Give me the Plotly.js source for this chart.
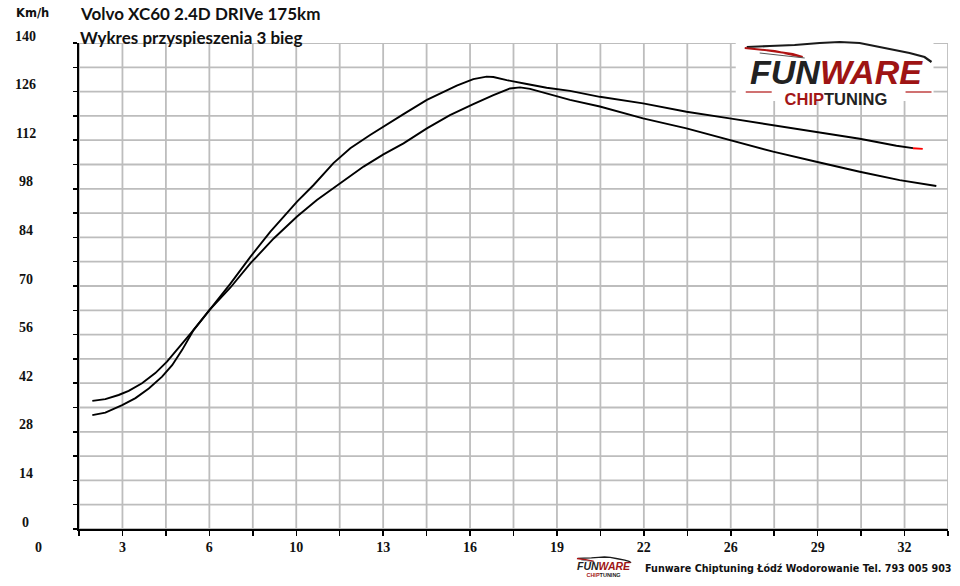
<!DOCTYPE html>
<html>
<head>
<meta charset="utf-8">
<script src="https://cdn.plot.ly/plotly-3.0.1.min.js"></script>
<style>html,body{margin:0;padding:0;background:#fff;}#chart{width:960px;height:586px;}</style>
</head>
<body>
<div id="chart"></div>
<script>
// ---- data (time in s, speed in km/h) ----
const timeA = [2.09, 2.57, 3.06, 3.43, 3.92, 4.41, 4.84, 5.27, 5.76, 6.41, 7.17, 7.91, 8.77, 9.63, 10.36, 11.22, 12.08, 12.81, 13.55, 14.41, 15.26, 16.12, 16.86, 17.47, 17.84, 18.21, 18.82, 19.68, 20.78, 22.37, 23.97, 25.56, 27.16, 28.75, 30.35, 31.82, 33.17];
const speedA = [36.9, 37.4, 38.6, 39.8, 42.0, 44.9, 48.2, 52.1, 56.8, 63.1, 69.5, 76.5, 83.7, 90.0, 94.8, 99.6, 104.4, 107.9, 111.1, 115.4, 119.2, 122.4, 125.0, 126.9, 127.2, 126.8, 125.5, 123.6, 121.7, 118.3, 115.4, 112.1, 108.7, 105.8, 102.9, 100.5, 98.8];
const timeB = [2.09, 2.57, 3.19, 3.68, 4.17, 4.66, 5.03, 5.40, 5.82, 6.41, 7.17, 7.91, 8.64, 9.63, 10.24, 10.97, 11.59, 12.32, 12.94, 13.55, 14.41, 14.90, 15.51, 16.12, 16.61, 16.86, 17.35, 18.09, 18.82, 19.68, 20.78, 22.37, 23.97, 25.56, 27.16, 28.75, 30.35, 31.70, 32.31];
const speedB = [32.8, 33.5, 35.7, 37.7, 40.5, 43.9, 47.2, 51.6, 57.3, 63.1, 70.6, 78.4, 85.6, 94.3, 99.1, 105.4, 109.7, 113.5, 116.4, 119.5, 123.6, 125.5, 127.7, 129.6, 130.3, 130.2, 129.3, 128.2, 127.1, 126.2, 124.5, 122.6, 120.2, 118.3, 116.4, 114.5, 112.4, 110.4, 109.7];
const tipTime = [32.31, 32.67];
const tipSpeed = [109.7, 109.5];

// ---- axis ticks / grid ----
const xGridVals = [1.6, 3.2, 4.8, 6.4, 8.0, 9.6, 11.2, 12.8, 14.4, 16.0, 17.6, 19.2, 20.8, 22.4, 24.0, 25.6, 27.2, 28.8, 30.4, 32.0, 33.6];
const xTickVals = [3.2, 6.4, 9.6, 12.8, 16.0, 19.2, 22.4, 25.6, 28.8, 32.0];
const xTickText = ['3', '6', '10', '13', '16', '19', '22', '26', '29', '32'];
const yGridVals = [0, 7, 14, 21, 28, 35, 42, 49, 56, 63, 70, 77, 84, 91, 98, 105, 112, 119, 126, 133, 140];
const yTickVals = [0, 14, 28, 42, 56, 70, 84, 98, 112, 126, 140];
const yTickText = ['0', '14', '28', '42', '56', '70', '84', '98', '112', '126', '140'];

const titleLine1 = 'Volvo XC60 2.4D DRIVe 175km';
const titleLine2 = 'Wykres przyspieszenia 3 bieg';
const unitLabel = 'Km/h';
const footerText = 'Funware Chiptuning Łódź Wodorowanie Tel. 793 005 903';

// ---- geometry helpers for decorative logo (pixel -> paper) ----
const L = 78.5, T = 43, W = 870, H = 486;
const px = x => (x - L) / W;
const py = y => (T + H - y) / H;
function pathFrom(points, ox, oy, s, close) {
  return points.map((p, i) => (i ? 'L' : 'M') + px(ox + p[0] * s).toFixed(5) + ',' + py(oy + p[1] * s).toFixed(5)).join(' ') + (close ? ' Z' : '');
}
const carRoof = [[2,5],[25,4],[50,3],[75,1],[95,0],[115,1],[140,6],[165,11],[180,15],[187,20]];
const carSwoosh = [[0,6],[30,9],[58,15],[48,12],[20,8]];
const carLine = [[15,11],[60,16]];

function logoShapes(ox, oy, s, lw) {
  return [
    {type:'path', xref:'paper', yref:'paper', path: pathFrom(carRoof, ox, oy, s, false), line:{color:'#1a1a1a', width:2.2*lw}, layer:'above'},
    {type:'path', xref:'paper', yref:'paper', path: pathFrom(carSwoosh, ox, oy, s, true), fillcolor:'#b01212', line:{color:'#b01212', width:2*lw}, layer:'above'},
    {type:'path', xref:'paper', yref:'paper', path: pathFrom(carLine, ox, oy, s, false), line:{color:'#555', width:1*lw}, layer:'above'}
  ];
}

const traces = [
  {x: timeA, y: speedA, type:'scatter', mode:'lines', line:{color:'#000', width:1.9}, hoverinfo:'skip'},
  {x: timeB, y: speedB, type:'scatter', mode:'lines', line:{color:'#000', width:1.9}, hoverinfo:'skip'},
  {x: tipTime, y: tipSpeed, type:'scatter', mode:'lines', line:{color:'#ff0000', width:1.9}, hoverinfo:'skip'}
];

const labelFont = {family:'"Liberation Serif", serif', size:14, color:'#111', weight:700};

// x tick text for every gridline (blank where the reference shows none)
const xGridText = xGridVals.map(v => {
  const k = xTickVals.findIndex(t => Math.abs(t - v) < 1e-6);
  return k >= 0 ? xTickText[k] : '';
});

const annotations = [];
yTickVals.forEach((v, i) => annotations.push({
  xref:'paper', yref:'y', x: px(25), y: v, yshift: 7, text: yTickText[i], showarrow:false,
  xanchor:'center', yanchor:'middle', font: labelFont
}));
annotations.push({xref:'paper', yref:'paper', x: px(38), y: 0, yshift: -18, text:'0', showarrow:false, xanchor:'center', yanchor:'middle', font: labelFont});
annotations.push({xref:'paper', yref:'paper', x: px(32), y: 1, yshift: 30, text: unitLabel, showarrow:false, xanchor:'center', yanchor:'middle',
  font:{family:'"DejaVu Sans", sans-serif', size:11.5, color:'#111', weight:700}});
annotations.push({xref:'paper', yref:'paper', x: px(77), y: 1, yshift: 30, text: titleLine1, showarrow:false, xanchor:'left', yanchor:'middle',
  font:{family:'Lato, sans-serif', size:17, color:'#111', weight:700}});
annotations.push({xref:'paper', yref:'paper', x: px(77), y: 1, yshift: 6, text: titleLine2, showarrow:false, xanchor:'left', yanchor:'middle',
  font:{family:'Lato, sans-serif', size:17, color:'#111', weight:700}});
// big logo (two lines in one text block)
annotations.push({xref:'paper', yref:'paper', x: px(837), y: py(80), showarrow:false, xanchor:'center', yanchor:'middle',
  text:'<span style="font-size:34px"><i>FUN<span style="color:#9e1414">WARE</span></i></span><br><span style="color:#a31616">CHIP</span>TUNING',
  font:{family:'"Liberation Sans", Arial, sans-serif', size:16.5, color:'#222', weight:900}});
// footer logo
annotations.push({xref:'paper', yref:'paper', x: px(604), y: py(569), showarrow:false, xanchor:'center', yanchor:'middle',
  text:'<span style="font-size:10.5px"><i>FUN<span style="color:#9e1414">WARE</span></i></span><br><span style="color:#a31616">CHIP</span>TUNING',
  font:{family:'"Liberation Sans", Arial, sans-serif', size:5.5, color:'#222', weight:900}});
annotations.push({xref:'paper', yref:'paper', x: px(643), y: py(568), text: footerText, showarrow:false, xanchor:'left', yanchor:'middle',
  font:{family:'"DejaVu Sans", sans-serif', size:9.6, color:'#111', weight:700}});

const gridStyle = {color:'#bdbdbd', width:1.8};
const shapes = [];
xGridVals.forEach(v => shapes.push({type:'line', xref:'x', yref:'y', x0:v, x1:v, y0:0, y1:140, line:gridStyle, layer:'below'}));
yGridVals.forEach(v => shapes.push({type:'line', xref:'x', yref:'y', x0:1.6, x1:33.6, y0:v, y1:v, line:gridStyle, layer:'below'}));
shapes.push(
  {type:'rect', xref:'paper', yref:'paper', x0: px(736), x1: px(934), y0: py(101), y1: py(40), fillcolor:'#fff', line:{width:0}, layer:'above'},
  {type:'line', xref:'paper', yref:'paper', x0: px(746), x1: px(772), y0: py(92), y1: py(92), line:{color:'#b01212', width:1.2}, layer:'above'},
  {type:'line', xref:'paper', yref:'paper', x0: px(906), x1: px(932), y0: py(92), y1: py(92), line:{color:'#b01212', width:1.2}, layer:'above'}
);
logoShapes(745, 42, 1, 1).concat(logoShapes(577, 557, 0.29, 0.6)).forEach(s => shapes.push(s));

const layout = {
  width: 960, height: 586,
  margin: {l: L, r: 960 - L - W, t: T, b: 586 - T - H, pad: 0},
  paper_bgcolor:'#ffffff', plot_bgcolor:'rgba(0,0,0,0)',
  showlegend:false,
  xaxis: {
    range:[1.6, 33.6], tickmode:'array', tickvals: xGridVals, ticktext: xGridText,
    showgrid:false, zeroline:false,
    showline:true, linecolor:'#000', linewidth:2.2,
    ticks:'outside', ticklen:5, tickwidth:1.5, tickcolor:'#000',
    ticklabelstandoff: -1,
    tickfont: labelFont
  },
  yaxis: {
    range:[0, 140], tickmode:'array', tickvals: yGridVals, showticklabels:false,
    showgrid:false, zeroline:false,
    showline:true, linecolor:'#000', linewidth:2.2,
    ticks:'outside', ticklen:4, tickwidth:1.5, tickcolor:'#000'
  },
  annotations: annotations,
  shapes: shapes
};

Plotly.newPlot('chart', traces, layout, {staticPlot:true, displayModeBar:false});
</script>
</body>
</html>
